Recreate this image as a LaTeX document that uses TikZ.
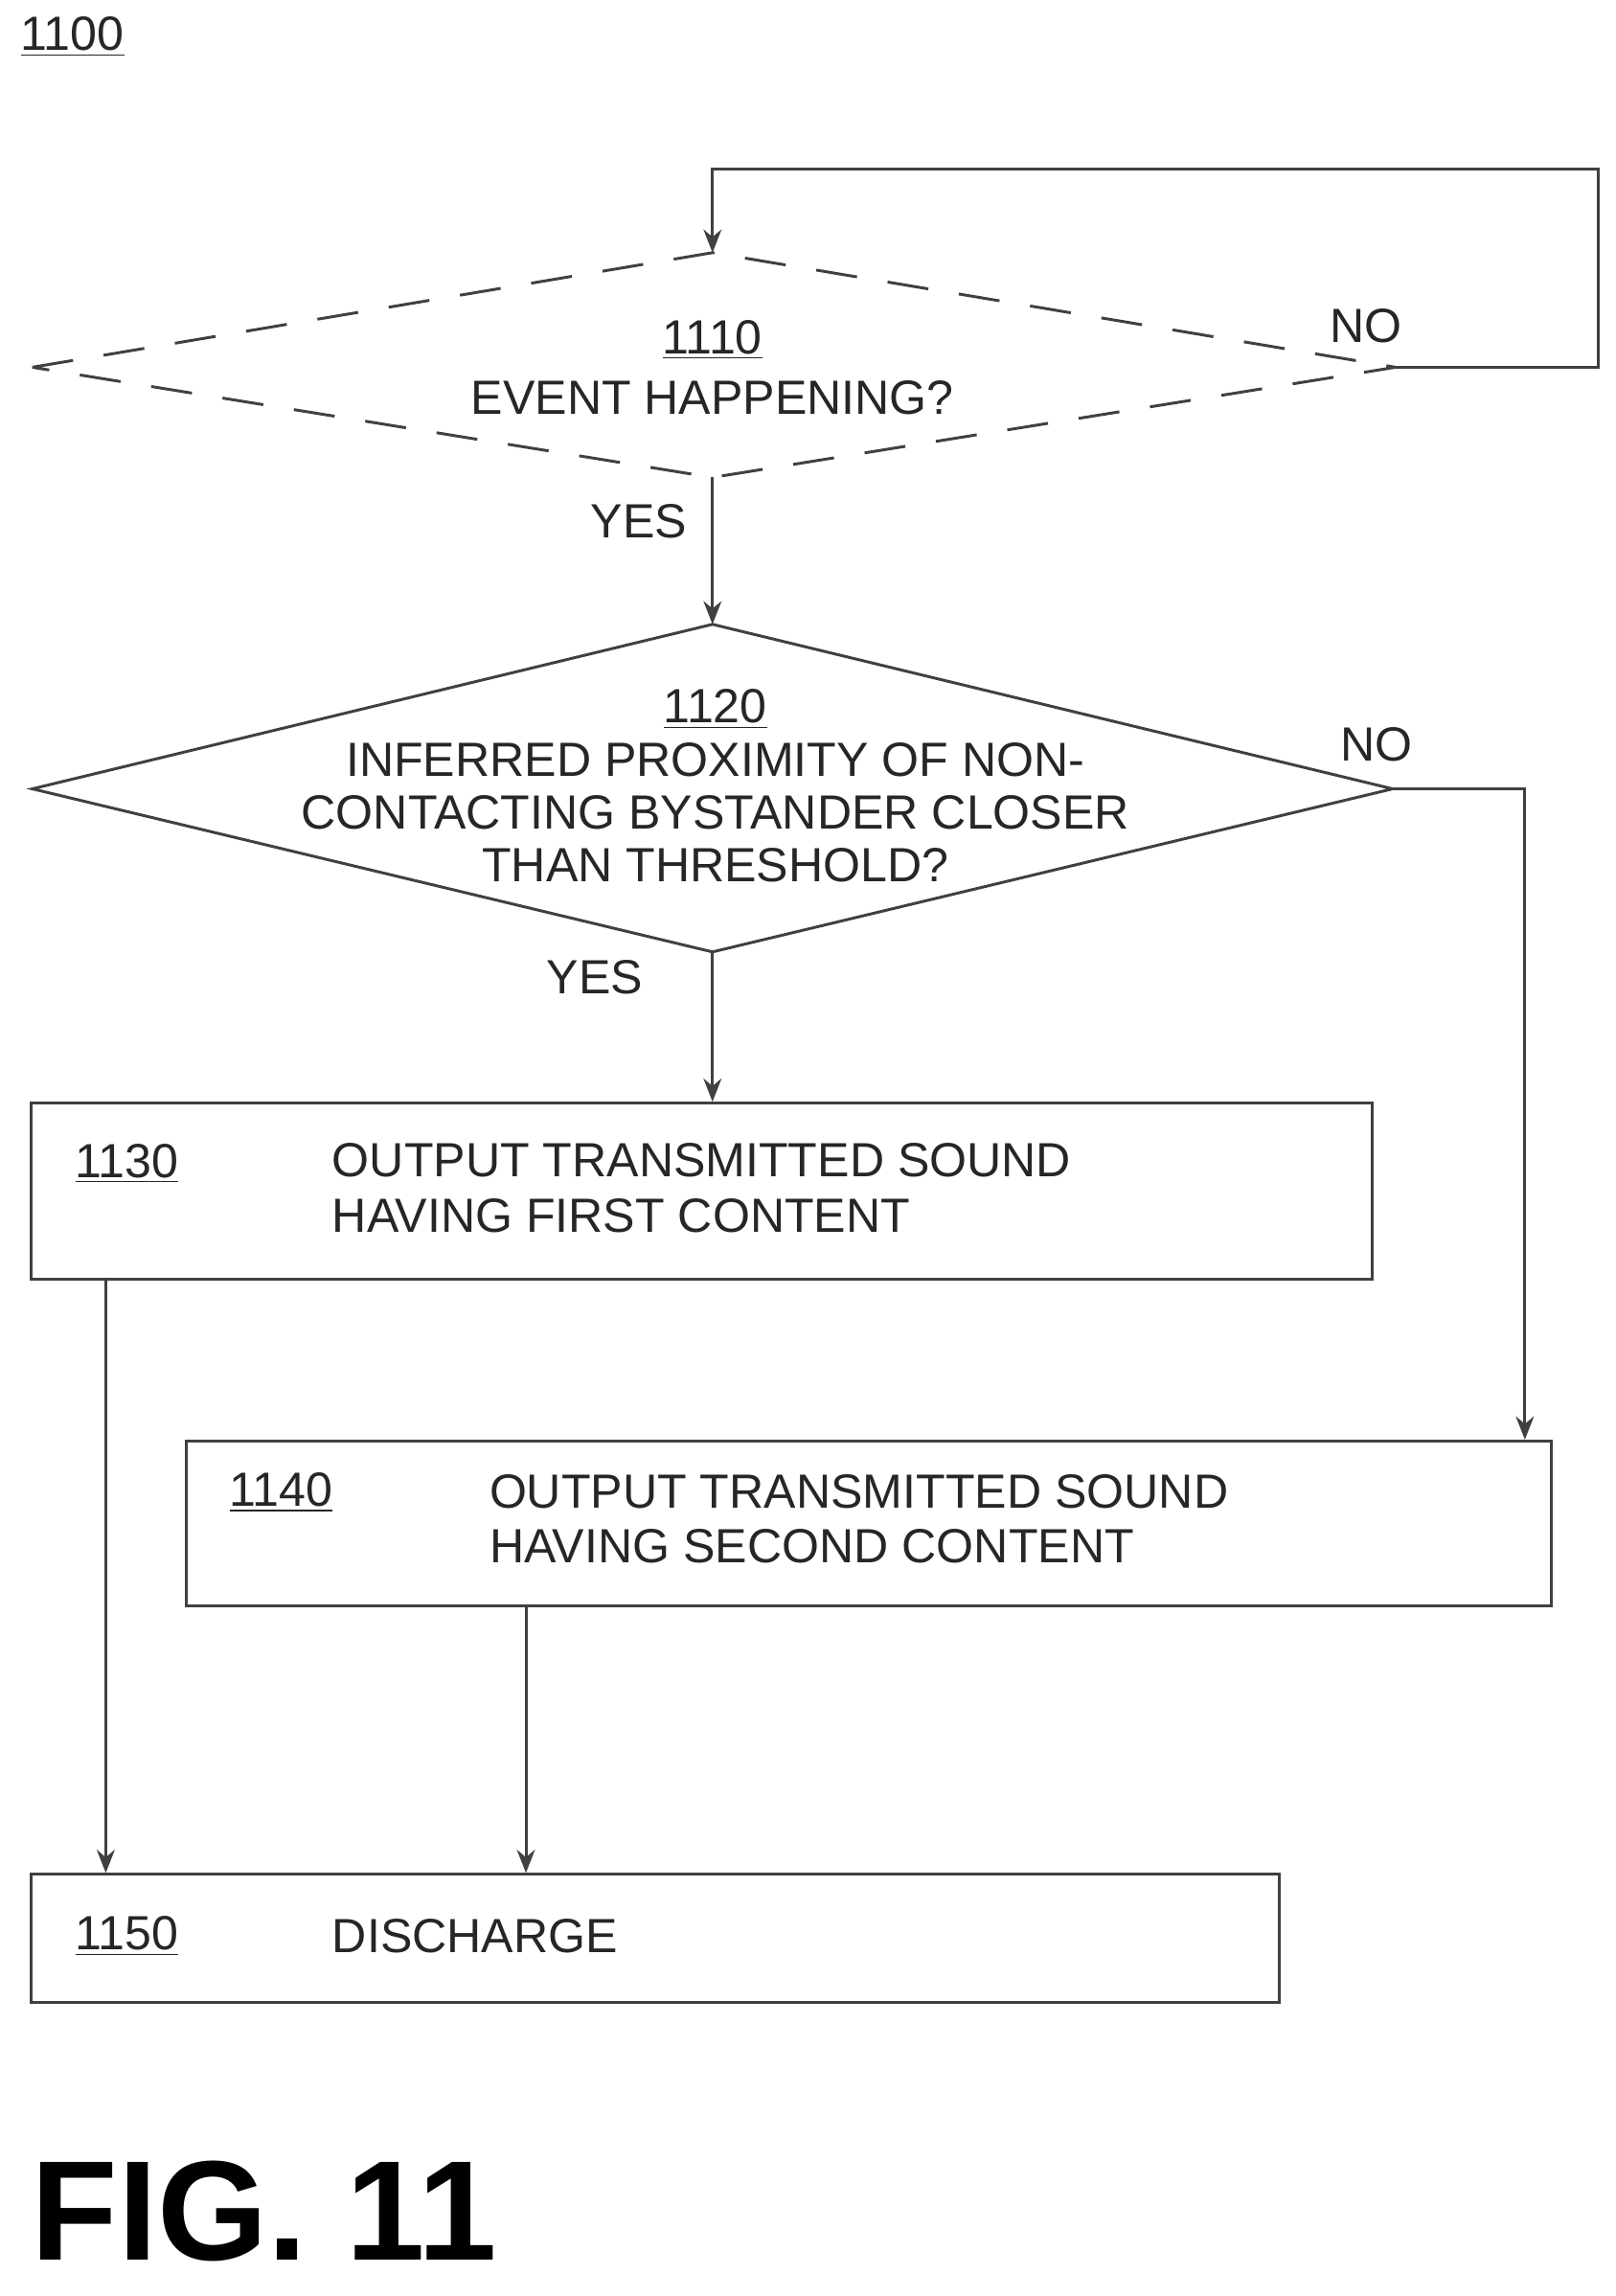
\documentclass[tikz,border=0pt]{standalone}
\usepackage{fontspec}
\setmainfont{Liberation Sans}
\usetikzlibrary{arrows.meta}
\begin{document}
\begin{tikzpicture}[x=0.02cm,y=-0.02cm,
  ln/.style={draw=black!75,line width=1.1pt},
  arr/.style={ln,-{Stealth[length=9pt,width=7pt]}},
  box/.style={ln,draw,rectangle,anchor=north west},
  txt/.style={font=\fontsize{18.6}{21.5}\selectfont,text=black!85},
  lab/.style={txt,anchor=west,align=left}]
\useasboundingbox (0,0) rectangle (1100,1563);
% 1110 diamond
\coordinate (aL) at (22,250); \coordinate (aT) at (485,172);
\coordinate (aR) at (950,250); \coordinate (aB) at (485,325);
\draw[ln,dash pattern=on 16pt off 12pt] (aL)--(aT)--(aR)--(aB)--cycle;
\node[txt,align=center] (t1110) at (485,250) {\underline{1110}\\[2pt]EVENT HAPPENING?};
\coordinate (l1) at (1088,250); \coordinate (l2) at (1088,115); \coordinate (l3) at (485,115);
\draw[arr] (aR)--(l1)--(l2)--(l3)--(aT);
\node[txt] (no1) at (930,222) {NO};
\node[txt] (yes1) at (435,355) {YES};
% 1120 diamond
\coordinate (bL) at (22,537); \coordinate (bT) at (485,425);
\coordinate (bR) at (948,537); \coordinate (bB) at (485,648);
\draw[arr] (aB)--(bT);
\draw[ln] (bL)--(bT)--(bR)--(bB)--cycle;
\node[txt,align=center] (t1120) at (487,535) {\underline{1120}\\[-1pt]INFERRED PROXIMITY OF NON-\\[-1pt]CONTACTING BYSTANDER CLOSER\\[-1pt]THAN THRESHOLD?};
\node[txt] (no2) at (937,507) {NO};
\node[txt] (yes2) at (405,665) {YES};
% boxes
\node[box,minimum width=913*0.02cm,minimum height=120*0.02cm] (b1130) at (20,750) {};
\node[box,minimum width=929*0.02cm,minimum height=112*0.02cm] (b1140) at (126,980) {};
\node[box,minimum width=850*0.02cm,minimum height=87*0.02cm] (b1150) at (20,1275) {};
\node[lab] (n1130) at (45,792) {\underline{1130}};
\node[lab] (t1130) at (220,809) {OUTPUT TRANSMITTED SOUND\\HAVING FIRST CONTENT};
\node[lab] (n1140) at (150,1016) {\underline{1140}};
\node[lab] (t1140) at (327,1034) {OUTPUT TRANSMITTED SOUND\\HAVING SECOND CONTENT};
\node[lab] (n1150) at (45,1318) {\underline{1150}};
\node[lab] (t1150) at (220,1318) {DISCHARGE};
\draw[arr] (bB)--(b1130.north west -| bB);
\coordinate (c1) at (1038,537);
\draw[arr] (bR)--(c1)--(b1140.north west -| c1);
\coordinate (d1) at (72,870); \coordinate (d2) at (358,1092);
\draw[arr] (d1)--(b1150.north west -| d1);
\draw[arr] (d2)--(b1150.north west -| d2);
\node[txt,anchor=west] (n1100) at (8,25) {\underline{1100}};
\node[anchor=west,font=\fontsize{55}{60}\selectfont\bfseries] (fig) at (15,1505) {FIG. 11};
\end{tikzpicture}
\end{document}
